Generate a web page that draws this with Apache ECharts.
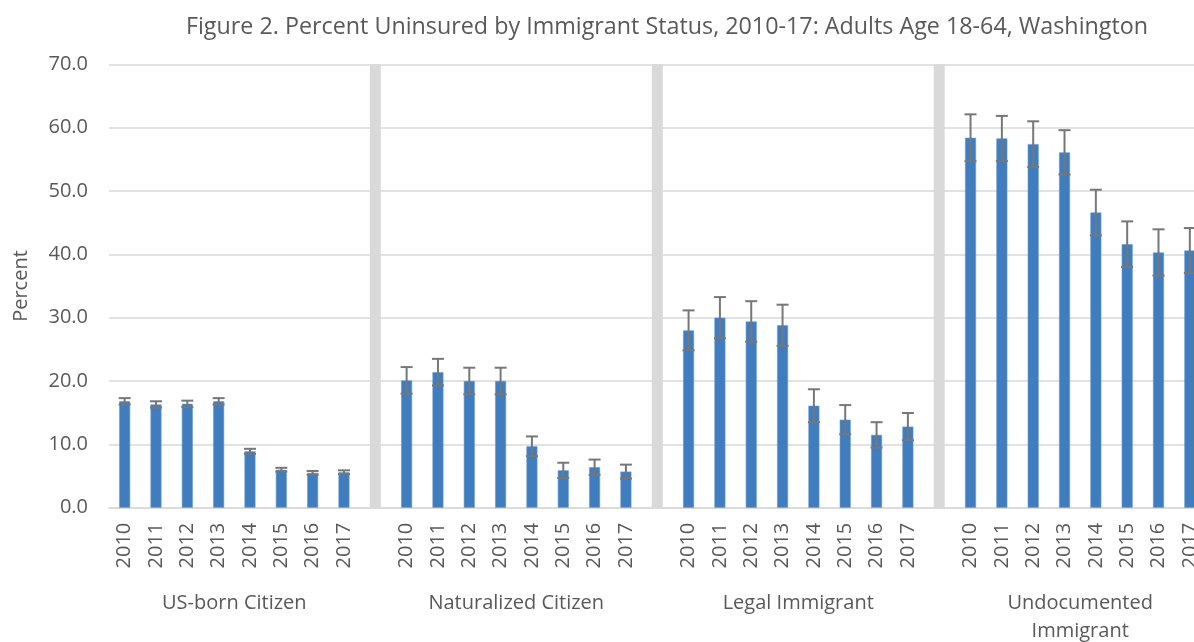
<!DOCTYPE html>
<html>
<head>
<meta charset="utf-8">
<script src="https://cdn.jsdelivr.net/npm/echarts@6/dist/echarts.min.js"></script>
<style>
html,body{margin:0;padding:0;background:#fff;}
#chart{width:1194px;height:642px;}
</style>
</head>
<body>
<div id="chart"></div>
<script>
const titleText = 'Figure 2. Percent Uninsured by Immigrant Status, 2010-17: Adults Age 18-64, Washington';
const years = ['2010','2011','2012','2013','2014','2015','2016','2017'];
const groups = ['US-born Citizen','Naturalized Citizen','Legal Immigrant','Undocumented\nImmigrant'];
const usBorn = [16.8,16.3,16.4,16.8,8.9,6.0,5.5,5.6];
const usBornErr = [0.5,0.5,0.5,0.5,0.4,0.3,0.3,0.3];
const naturalized = [20.1,21.4,20.0,20.0,9.7,5.9,6.4,5.7];
const naturalizedErr = [2.1,2.1,2.1,2.1,1.55,1.2,1.2,1.1];
const legal = [28.0,30.0,29.4,28.8,16.1,13.9,11.5,12.8];
const legalErr = [3.15,3.25,3.2,3.25,2.6,2.3,2.0,2.15];
const undocumented = [58.4,58.3,57.4,56.1,46.6,41.6,40.3,40.6];
const undocumentedErr = [3.7,3.55,3.6,3.5,3.6,3.6,3.65,3.55];
const yTicks = [0,10,20,30,40,50,60,70];

const groupValues = [usBorn, naturalized, legal, undocumented];
const groupErrs = [usBornErr, naturalizedErr, legalErr, undocumentedErr];
const yMax = yTicks[yTicks.length-1];

// build slots: 8 years per group + separator slot between groups
const cats = [], vals = [], seps = [], errData = [], groupCenters = [];
groups.forEach((g, gi) => {
  const start = cats.length;
  years.forEach((y, yi) => {
    const idx = cats.length;
    cats.push(y);
    vals.push(groupValues[gi][yi]);
    seps.push('-');
    const e = groupErrs[gi][yi];
    errData.push([idx, groupValues[gi][yi] - e, groupValues[gi][yi] + e]);
  });
  groupCenters.push((start + cats.length) / 2);
  if (gi < groups.length - 1) {
    cats.push('');
    vals.push('-');
    seps.push(yMax);
  }
});

const font = '"Open Sans", "Noto Sans", sans-serif';
const chart = echarts.init(document.getElementById('chart'), null, {renderer:'canvas'});
chart.setOption({
  animation: false,
  backgroundColor: '#ffffff',
  title: {
    text: titleText,
    left: 662, top: 11, textAlign: 'center',
    textStyle: {fontFamily: font, fontSize: 23.3, fontWeight: 'normal', color: '#595959'}
  },
  grid: {left: 109, right: -11.5, top: 64.3, bottom: 134.3, containLabel: false, outerBoundsMode: 'none'},
  xAxis: [{
    type: 'category',
    data: cats,
    boundaryGap: true,
    axisLine: {show: true, lineStyle: {color: '#d9d9d9', width: 1.5}},
    axisTick: {show: false},
    axisLabel: {interval: 0, rotate: 90, margin: 15, fontFamily: font, fontSize: 20, color: '#595959'}
  }, {
    type: 'value',
    min: 0, max: cats.length,
    position: 'bottom',
    axisLine: {show: false}, axisTick: {show: false}, splitLine: {show: false},
    axisLabel: {
      customValues: groupCenters,
      margin: 82,
      fontFamily: font, fontSize: 20, color: '#595959', lineHeight: 28,
      formatter: function (v) {
        const i = groupCenters.indexOf(v);
        return i >= 0 ? groups[i] : '';
      }
    }
  }],
  yAxis: {
    type: 'value',
    min: 0, max: yMax, interval: 10,
    name: 'Percent',
    nameLocation: 'middle',
    nameGap: 78,
    nameTextStyle: {fontFamily: font, fontSize: 20, color: '#595959'},
    axisLine: {show: false}, axisTick: {show: false},
    splitLine: {lineStyle: {color: '#d9d9d9', width: 1.5}},
    axisLabel: {margin: 21, fontFamily: font, fontSize: 20, color: '#595959',
      formatter: v => v.toFixed(1)}
  },
  series: [{
    type: 'bar', name: 'sep', data: seps, barWidth: 11, barGap: '-100%',
    itemStyle: {color: '#d9d9d9'}, silent: true
  }, {
    type: 'bar', name: 'Percent uninsured', data: vals, barWidth: 11, barGap: '-100%',
    itemStyle: {color: '#3f7dbf', borderColor: '#6c9bd0', borderWidth: 0.6}
  }, {
    type: 'custom', name: 'error',
    data: errData,
    z: 10,
    renderItem: function (params, api) {
      const x = api.value(0);
      const lo = api.coord([x, api.value(1)]);
      const hi = api.coord([x, api.value(2)]);
      const hw = 6;
      const style = {stroke: '#777777', lineWidth: 2};
      return {type: 'group', children: [
        {type: 'line', shape: {x1: lo[0], y1: lo[1], x2: hi[0], y2: hi[1]}, style: style},
        {type: 'line', shape: {x1: lo[0]-hw, y1: lo[1], x2: lo[0]+hw, y2: lo[1]}, style: style},
        {type: 'line', shape: {x1: hi[0]-hw, y1: hi[1], x2: hi[0]+hw, y2: hi[1]}, style: style}
      ]};
    }
  }]
});
</script>
</body>
</html>
